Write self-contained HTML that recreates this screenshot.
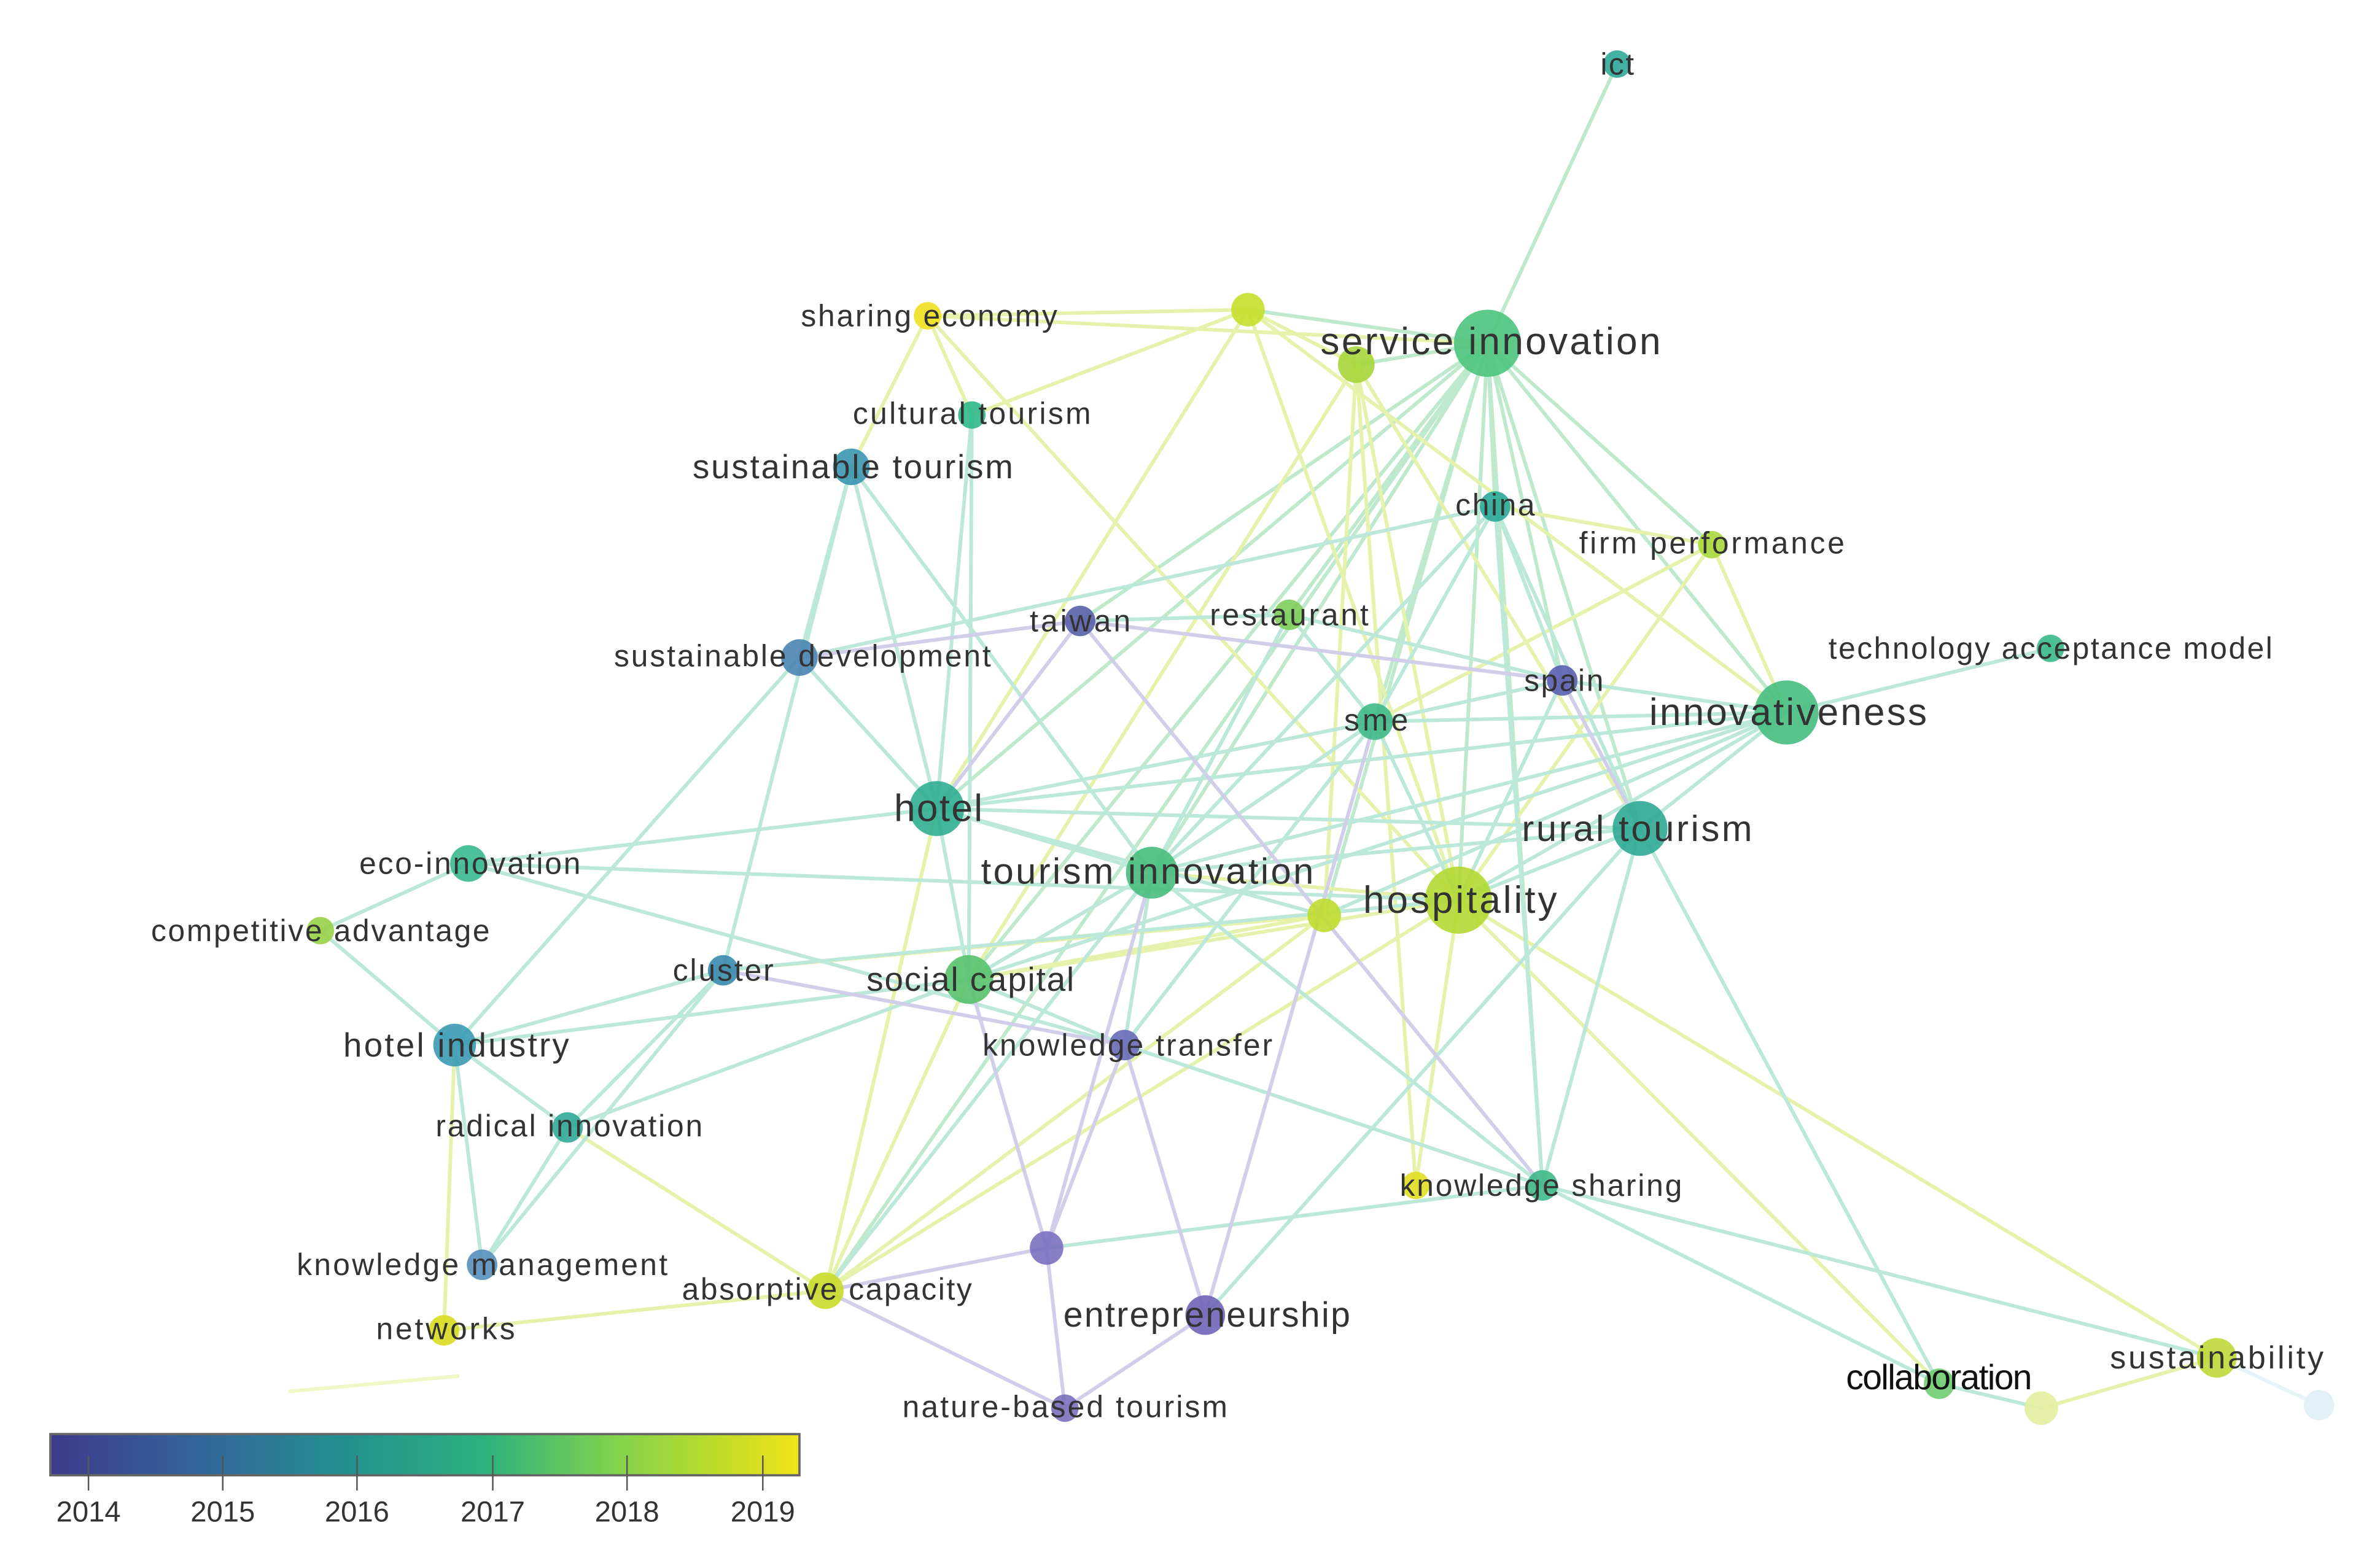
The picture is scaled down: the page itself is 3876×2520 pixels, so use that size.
<!DOCTYPE html>
<html><head><meta charset="utf-8"><style>
html,body{margin:0;padding:0;background:#fff;width:3876px;height:2520px;overflow:hidden}
svg{display:block}
text{font-family:"Liberation Sans",sans-serif;fill:#333;dominant-baseline:central;text-anchor:middle}
</style></head><body>
<svg width="3876" height="2520" viewBox="0 0 1560 1014" preserveAspectRatio="none" xmlns="http://www.w3.org/2000/svg">
<defs>
<linearGradient id="vir" x1="0" x2="1" y1="0" y2="0">
<stop offset="0" stop-color="#3e3a8c"/><stop offset="0.2" stop-color="#33659a"/><stop offset="0.4" stop-color="#23918e"/><stop offset="0.58" stop-color="#2cb27e"/><stop offset="0.75" stop-color="#7fd24e"/><stop offset="0.9" stop-color="#c2dc26"/><stop offset="1" stop-color="#f2e41c"/>
</linearGradient>
</defs>
<g stroke-width="2.4" stroke-linecap="round" opacity="0.5" fill="none">
<g stroke="#7fd49a">
<line x1="975" y1="225" x2="1060" y2="42"/>
<line x1="975" y1="225" x2="818" y2="203"/>
<line x1="975" y1="225" x2="889" y2="239"/>
<line x1="975" y1="225" x2="980" y2="332"/>
<line x1="975" y1="225" x2="1122" y2="357"/>
<line x1="975" y1="225" x2="1171" y2="467"/>
<line x1="975" y1="225" x2="1075" y2="543"/>
<line x1="975" y1="225" x2="1024" y2="446"/>
<line x1="975" y1="225" x2="956" y2="590"/>
<line x1="975" y1="225" x2="901" y2="473"/>
<line x1="975" y1="225" x2="845" y2="403"/>
<line x1="975" y1="225" x2="614" y2="530"/>
<line x1="975" y1="225" x2="755" y2="572"/>
<line x1="975" y1="225" x2="635" y2="642"/>
<line x1="975" y1="225" x2="1011" y2="777"/>
<line x1="975" y1="225" x2="868" y2="600"/>
<line x1="975" y1="225" x2="541" y2="846"/>
<line x1="975" y1="225" x2="708" y2="407"/>
</g>
<g stroke="#cde65a">
<line x1="818" y1="203" x2="608" y2="207"/>
<line x1="818" y1="203" x2="637" y2="272"/>
<line x1="818" y1="203" x2="889" y2="239"/>
<line x1="818" y1="203" x2="956" y2="590"/>
<line x1="818" y1="203" x2="1171" y2="467"/>
<line x1="818" y1="203" x2="614" y2="530"/>
<line x1="608" y1="207" x2="637" y2="272"/>
<line x1="608" y1="207" x2="956" y2="590"/>
<line x1="608" y1="207" x2="975" y2="225"/>
<line x1="608" y1="207" x2="558" y2="306"/>
<line x1="889" y1="239" x2="956" y2="590"/>
<line x1="889" y1="239" x2="1075" y2="543"/>
<line x1="889" y1="239" x2="928" y2="777"/>
<line x1="889" y1="239" x2="868" y2="600"/>
<line x1="889" y1="239" x2="635" y2="642"/>
<line x1="1122" y1="357" x2="956" y2="590"/>
<line x1="1122" y1="357" x2="1171" y2="467"/>
<line x1="1122" y1="357" x2="901" y2="473"/>
<line x1="1122" y1="357" x2="980" y2="332"/>
<line x1="956" y1="590" x2="1453" y2="890"/>
<line x1="956" y1="590" x2="928" y2="777"/>
<line x1="956" y1="590" x2="635" y2="642"/>
<line x1="956" y1="590" x2="541" y2="846"/>
<line x1="956" y1="590" x2="755" y2="572"/>
<line x1="868" y1="600" x2="541" y2="846"/>
<line x1="868" y1="600" x2="474" y2="636"/>
<line x1="868" y1="600" x2="635" y2="642"/>
<line x1="541" y1="846" x2="291" y2="872"/>
<line x1="541" y1="846" x2="372" y2="739"/>
<line x1="541" y1="846" x2="614" y2="530"/>
<line x1="541" y1="846" x2="635" y2="642"/>
<line x1="291" y1="872" x2="298" y2="685"/>
<line x1="1338" y1="923" x2="1453" y2="890"/>
<line x1="956" y1="590" x2="1271" y2="907"/>
</g>
<g stroke="#7ad2b4">
<line x1="558" y1="306" x2="524" y2="431"/>
<line x1="558" y1="306" x2="614" y2="530"/>
<line x1="558" y1="306" x2="755" y2="572"/>
<line x1="558" y1="306" x2="474" y2="636"/>
<line x1="637" y1="272" x2="635" y2="642"/>
<line x1="637" y1="272" x2="614" y2="530"/>
<line x1="980" y1="332" x2="1024" y2="446"/>
<line x1="980" y1="332" x2="1075" y2="543"/>
<line x1="980" y1="332" x2="901" y2="473"/>
<line x1="980" y1="332" x2="755" y2="572"/>
<line x1="980" y1="332" x2="1011" y2="777"/>
<line x1="980" y1="332" x2="524" y2="431"/>
<line x1="845" y1="403" x2="901" y2="473"/>
<line x1="845" y1="403" x2="1024" y2="446"/>
<line x1="845" y1="403" x2="708" y2="407"/>
<line x1="845" y1="403" x2="755" y2="572"/>
<line x1="1024" y1="446" x2="1171" y2="467"/>
<line x1="1024" y1="446" x2="1075" y2="543"/>
<line x1="1024" y1="446" x2="901" y2="473"/>
<line x1="1024" y1="446" x2="956" y2="590"/>
<line x1="901" y1="473" x2="1171" y2="467"/>
<line x1="901" y1="473" x2="614" y2="530"/>
<line x1="901" y1="473" x2="755" y2="572"/>
<line x1="901" y1="473" x2="956" y2="590"/>
<line x1="901" y1="473" x2="737" y2="685"/>
<line x1="1171" y1="467" x2="1344" y2="425"/>
<line x1="1171" y1="467" x2="1075" y2="543"/>
<line x1="1171" y1="467" x2="956" y2="590"/>
<line x1="1171" y1="467" x2="755" y2="572"/>
<line x1="1171" y1="467" x2="635" y2="642"/>
<line x1="1171" y1="467" x2="614" y2="530"/>
<line x1="1171" y1="467" x2="868" y2="600"/>
<line x1="614" y1="530" x2="307" y2="566"/>
<line x1="614" y1="530" x2="524" y2="431"/>
<line x1="614" y1="530" x2="755" y2="572"/>
<line x1="614" y1="530" x2="635" y2="642"/>
<line x1="614" y1="530" x2="1075" y2="543"/>
<line x1="614" y1="530" x2="868" y2="600"/>
<line x1="1075" y1="543" x2="1271" y2="907"/>
<line x1="1075" y1="543" x2="956" y2="590"/>
<line x1="1075" y1="543" x2="1011" y2="777"/>
<line x1="1075" y1="543" x2="755" y2="572"/>
<line x1="307" y1="566" x2="210" y2="610"/>
<line x1="307" y1="566" x2="956" y2="590"/>
<line x1="307" y1="566" x2="737" y2="685"/>
<line x1="210" y1="610" x2="298" y2="685"/>
<line x1="474" y1="636" x2="298" y2="685"/>
<line x1="474" y1="636" x2="372" y2="739"/>
<line x1="474" y1="636" x2="956" y2="590"/>
<line x1="635" y1="642" x2="298" y2="685"/>
<line x1="635" y1="642" x2="737" y2="685"/>
<line x1="755" y1="572" x2="737" y2="685"/>
<line x1="755" y1="572" x2="541" y2="846"/>
<line x1="755" y1="572" x2="1011" y2="777"/>
<line x1="755" y1="572" x2="635" y2="642"/>
<line x1="298" y1="685" x2="372" y2="739"/>
<line x1="298" y1="685" x2="316" y2="829"/>
<line x1="298" y1="685" x2="524" y2="431"/>
<line x1="372" y1="739" x2="316" y2="829"/>
<line x1="372" y1="739" x2="635" y2="642"/>
<line x1="316" y1="829" x2="474" y2="636"/>
<line x1="737" y1="685" x2="1011" y2="777"/>
<line x1="1011" y1="777" x2="1271" y2="907"/>
<line x1="1011" y1="777" x2="1453" y2="890"/>
<line x1="1011" y1="777" x2="686" y2="818"/>
<line x1="1271" y1="907" x2="1338" y2="923"/>
<line x1="1075" y1="543" x2="790" y2="862"/>
</g>
<g stroke="#a49ed6">
<line x1="708" y1="407" x2="524" y2="431"/>
<line x1="708" y1="407" x2="614" y2="530"/>
<line x1="708" y1="407" x2="1024" y2="446"/>
<line x1="708" y1="407" x2="1011" y2="777"/>
<line x1="474" y1="636" x2="737" y2="685"/>
<line x1="737" y1="685" x2="790" y2="862"/>
<line x1="737" y1="685" x2="686" y2="818"/>
<line x1="686" y1="818" x2="755" y2="572"/>
<line x1="686" y1="818" x2="698" y2="923"/>
<line x1="686" y1="818" x2="541" y2="846"/>
<line x1="686" y1="818" x2="635" y2="642"/>
<line x1="790" y1="862" x2="698" y2="923"/>
<line x1="790" y1="862" x2="901" y2="473"/>
<line x1="541" y1="846" x2="698" y2="923"/>
<line x1="1024" y1="446" x2="1075" y2="543"/>
</g>
<line x1="1453" y1="890" x2="1520" y2="921" stroke="#cfe8ee"/>
<line x1="190" y1="912" x2="300" y2="902" stroke="#e4ee90"/>
</g>
<g opacity="0.9">
<circle cx="1060" cy="42" r="9" fill="#2fa89a"/>
<circle cx="818" cy="203" r="11" fill="#c5df2a"/>
<circle cx="975" cy="225" r="22" fill="#4cc47c"/>
<circle cx="889" cy="239" r="12" fill="#a6d63a"/>
<circle cx="608" cy="207" r="9" fill="#f0e020"/>
<circle cx="637" cy="272" r="9" fill="#2db88a"/>
<circle cx="558" cy="306" r="12" fill="#3a96b0"/>
<circle cx="980" cy="332" r="10" fill="#2aa898"/>
<circle cx="1122" cy="357" r="9" fill="#a8d83c"/>
<circle cx="845" cy="403" r="10" fill="#7cce5a"/>
<circle cx="708" cy="407" r="10" fill="#5560a8"/>
<circle cx="524" cy="431" r="12" fill="#4a84b0"/>
<circle cx="1344" cy="425" r="9" fill="#3ab888"/>
<circle cx="1024" cy="446" r="10" fill="#5a5eb0"/>
<circle cx="901" cy="473" r="12" fill="#40b888"/>
<circle cx="1171" cy="467" r="21" fill="#46be80"/>
<circle cx="614" cy="530" r="18" fill="#30ae90"/>
<circle cx="1075" cy="543" r="18" fill="#2ea894"/>
<circle cx="307" cy="566" r="12" fill="#38b890"/>
<circle cx="755" cy="572" r="17" fill="#48bc7c"/>
<circle cx="956" cy="590" r="22" fill="#b4d832"/>
<circle cx="868" cy="600" r="11" fill="#c0dc30"/>
<circle cx="210" cy="610" r="9" fill="#98d248"/>
<circle cx="474" cy="636" r="10" fill="#3a8aac"/>
<circle cx="635" cy="642" r="16" fill="#58c26c"/>
<circle cx="298" cy="685" r="14" fill="#3a9ab4"/>
<circle cx="737" cy="685" r="10" fill="#6a6ab8"/>
<circle cx="372" cy="739" r="10" fill="#30a898"/>
<circle cx="928" cy="777" r="9" fill="#e0de20"/>
<circle cx="1011" cy="777" r="10" fill="#40b888"/>
<circle cx="686" cy="818" r="11" fill="#7a70c0"/>
<circle cx="316" cy="829" r="10" fill="#5890bc"/>
<circle cx="541" cy="846" r="12" fill="#c8dc2a"/>
<circle cx="790" cy="862" r="13" fill="#7064b8"/>
<circle cx="291" cy="872" r="10" fill="#d8dc20"/>
<circle cx="698" cy="923" r="9" fill="#7a70bc"/>
<circle cx="1271" cy="907" r="10" fill="#70cc70"/>
<circle cx="1453" cy="890" r="13" fill="#c0d838"/>
<circle cx="1338" cy="923" r="11" fill="#e4eea0"/>
<circle cx="1520" cy="921" r="10" fill="#dff0f4"/>
</g>
<g font-size="20" lengthAdjust="spacingAndGlyphs">
<text x="1060" y="42" textLength="22">ict</text>
<text x="977" y="224" font-size="25" textLength="223">service innovation</text>
<text x="609" y="207" textLength="168">sharing economy</text>
<text x="637" y="271" textLength="156">cultural tourism</text>
<text x="559" y="306" font-size="22" textLength="210">sustainable tourism</text>
<text x="980" y="331" textLength="52">china</text>
<text x="1122" y="356" textLength="174">firm performance</text>
<text x="845" y="403" textLength="104">restaurant</text>
<text x="708" y="407" textLength="66">taiwan</text>
<text x="526" y="430" textLength="247">sustainable development</text>
<text x="1344" y="425" textLength="291">technology acceptance model</text>
<text x="1025" y="446" textLength="52">spain</text>
<text x="902" y="472" textLength="42">sme</text>
<text x="1172" y="467" font-size="25" textLength="182">innovativeness</text>
<text x="615" y="530" font-size="25" textLength="58">hotel</text>
<text x="1073" y="543" font-size="24" textLength="151">rural tourism</text>
<text x="308" y="566" textLength="145">eco-innovation</text>
<text x="752" y="571" font-size="24" textLength="218">tourism innovation</text>
<text x="957" y="590" font-size="25" textLength="127">hospitality</text>
<text x="210" y="610" textLength="222">competitive advantage</text>
<text x="474" y="636" textLength="66">cluster</text>
<text x="636" y="642" font-size="22" textLength="136">social capital</text>
<text x="299" y="685" font-size="22" textLength="148">hotel industry</text>
<text x="739" y="685" textLength="190">knowledge transfer</text>
<text x="373" y="738" textLength="175">radical innovation</text>
<text x="1010" y="777" textLength="185">knowledge sharing</text>
<text x="316" y="829" textLength="243">knowledge management</text>
<text x="542" y="845" textLength="190">absorptive capacity</text>
<text x="791" y="862" font-size="23" textLength="188">entrepreneurship</text>
<text x="292" y="871" textLength="91">networks</text>
<text x="698" y="922" textLength="213">nature-based tourism</text>
<text x="1271" y="903" font-size="23" textLength="122" style="fill:#111">collaboration</text>
<text x="1453" y="890" font-size="21" textLength="140">sustainability</text>
</g>
<rect x="33" y="940" width="491" height="27" fill="url(#vir)" stroke="#666" stroke-width="1.5"/>
<g stroke="#555" stroke-width="1">
<line x1="58" y1="954" x2="58" y2="977"/><line x1="146" y1="954" x2="146" y2="977"/><line x1="234" y1="954" x2="234" y2="977"/><line x1="323" y1="954" x2="323" y2="977"/><line x1="411" y1="954" x2="411" y2="977"/><line x1="500" y1="954" x2="500" y2="977"/>
</g>
<g font-size="19">
<text x="58" y="991">2014</text><text x="146" y="991">2015</text><text x="234" y="991">2016</text><text x="323" y="991">2017</text><text x="411" y="991">2018</text><text x="500" y="991">2019</text>
</g>
</svg>
</body></html>
